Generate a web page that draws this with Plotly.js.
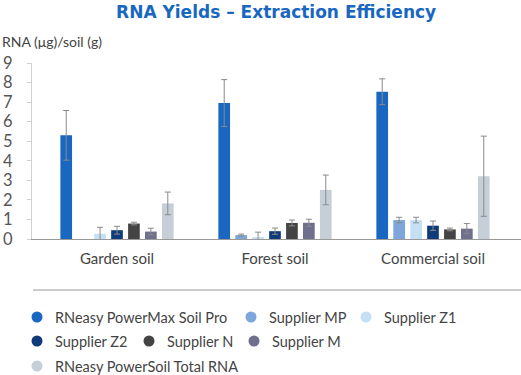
<!DOCTYPE html>
<html><head><meta charset="utf-8">
<script src="https://cdn.plot.ly/plotly-3.0.1.min.js"></script>
<style>html,body{margin:0;padding:0;background:#fff}#chart{width:521px;height:375px}</style>
</head><body><div id="chart"></div>
<script>
const categories = ["Garden soil", "Forest soil", "Commercial soil"];
const seriesNames = ["RNeasy PowerMax Soil Pro", "Supplier MP", "Supplier Z1", "Supplier Z2", "Supplier N", "Supplier M", "RNeasy PowerSoil Total RNA"];
const seriesColors = ["#1967c0", "#7da7dc", "#c5e0f5", "#103b7a", "#444444", "#6f708e", "#c6cfd8"];
const powerMax = [5.3, 6.95, 7.53];
const powerMaxErr = [1.27, 1.2, 0.66];
const supplierMP = [null, 0.2, 0.97];
const supplierMPErr = [null, 0.05, 0.14];
const supplierZ1 = [0.27, 0.1, 0.97];
const supplierZ1Err = [0.33, 0.25, 0.14];
const supplierZ2 = [0.45, 0.4, 0.68];
const supplierZ2Err = [0.2, 0.16, 0.24];
const supplierN = [0.79, 0.82, 0.49];
const supplierNErr = [0.07, 0.15, 0.07];
const supplierM = [0.38, 0.83, 0.53];
const supplierMErr = [0.17, 0.18, 0.26];
const powerSoilTotal = [1.82, 2.51, 3.21];
const powerSoilTotalErr = [0.58, 0.76, 2.05];
const yTicks = [0,1,2,3,4,5,6,7,8,9];

const values = [powerMax, supplierMP, supplierZ1, supplierZ2, supplierN, supplierM, powerSoilTotal];
const errs = [powerMaxErr, supplierMPErr, supplierZ1Err, supplierZ2Err, supplierNErr, supplierMErr, powerSoilTotalErr];
const font = "Lato, 'Open Sans', sans-serif";

// plot-area geometry (pixels)
const W = 521, H = 375, mL = 32, mR = 0, mT = 63, mB = 136;
const pw = W - mL - mR, ph = H - mT - mB;
const px2x = p => (p - mL) / pw;
const px2y = p => (H - mB - p) / ph;

const traces = values.map((v, i) => ({
  type: "bar", x: categories, y: v, name: seriesNames[i],
  marker: {color: seriesColors[i]},
  error_y: {type: "data", array: errs[i], visible: true, color: "#8a8a8a", thickness: 1, width: 3},
  hoverinfo: "skip"
}));

// legend layout: flowing rows like the reference
const legendRows = [[0, 1, 2], [3, 4, 5], [6]];
const rowY = [317, 341, 366];
const rowMarkerX = [[37, 251, 366], [37, 149, 254], [37]];
const shapes = [{type: "line", xref: "paper", yref: "paper", x0: px2x(33), x1: 1, y0: px2y(290), y1: px2y(290), line: {color: "#999", width: 1}}];
const annotations = [{
  text: "RNA (μg)/soil (g)", xref: "paper", yref: "paper", x: px2x(0), y: px2y(41),
  xanchor: "left", yanchor: "middle", showarrow: false, font: {size: 14, color: "#444", family: font}
}];
legendRows.forEach((row, r) => row.forEach((si, k) => {
  const mx = rowMarkerX[r][k], my = rowY[r];
  shapes.push({type: "circle", xref: "paper", yref: "paper", xsizemode: "pixel", ysizemode: "pixel",
    xanchor: px2x(mx), yanchor: px2y(my), x0: -5.5, x1: 5.5, y0: -5.5, y1: 5.5,
    fillcolor: seriesColors[si], line: {width: 0}});
  annotations.push({text: seriesNames[si], xref: "paper", yref: "paper", x: px2x(mx + 16), y: px2y(my),
    xanchor: "left", yanchor: "middle", showarrow: false, font: {size: 14.5, color: "#444", family: font}});
}));

const layout = {
  width: W, height: H, showlegend: false,
  margin: {l: mL, r: mR, t: mT, b: mB, autoexpand: false},
  paper_bgcolor: "#fff", plot_bgcolor: "#fff",
  font: {family: font, color: "#555", size: 14},
  barmode: "group", bargap: 0.25, bargroupgap: 0.31,
  title: {text: "<b>RNA Yields – Extraction Efficiency</b>", font: {family: "'DejaVu Sans', sans-serif", size: 17, color: "#1967c0"}, x: 0.53, xanchor: "center", y: 0.968, yanchor: "middle"},
  xaxis: {
    type: "category", range: [-0.538, 2.557], showgrid: false, zeroline: false,
    showline: true, linecolor: "#999", linewidth: 1, ticks: "",
    tickfont: {size: 15, color: "#444", family: font}, ticklabelstandoff: 6
  },
  yaxis: {
    range: [0, 9], tickvals: yTicks, showgrid: false, zeroline: false,
    showline: true, linecolor: "#d0d0d0", linewidth: 1, ticks: "outside", ticklen: 4, tickcolor: "#d0d0d0",
    tickfont: {size: 16.5, color: "#555", family: font}, ticklabelstandoff: 11
  },
  annotations: annotations,
  shapes: shapes
};
Plotly.newPlot("chart", traces, layout, {displayModeBar: false, staticPlot: true});
</script></body></html>
